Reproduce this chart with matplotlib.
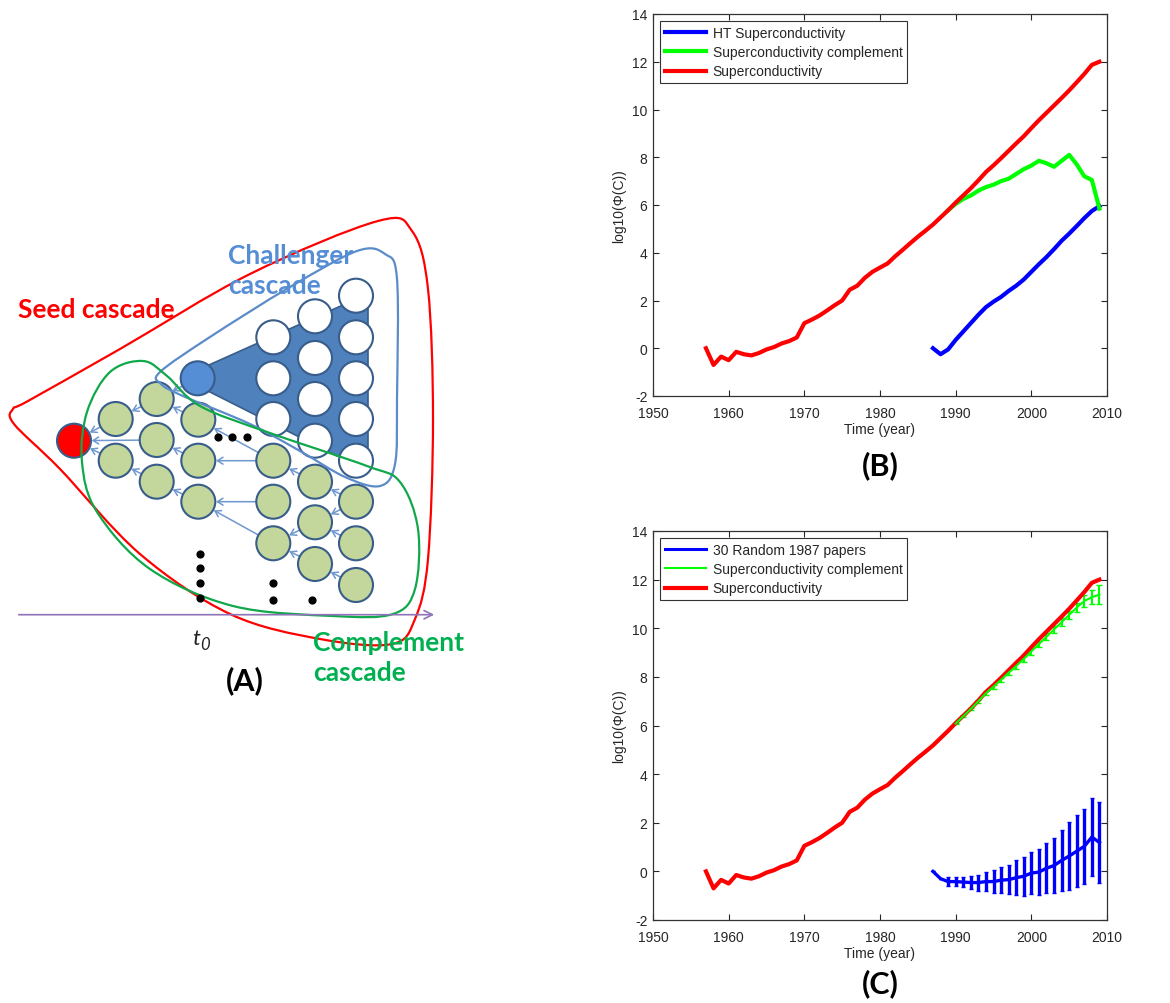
import numpy as np
import matplotlib
matplotlib.use("Agg")
import matplotlib.pyplot as plt
from matplotlib.path import Path
from matplotlib.patches import PathPatch, Circle, Polygon, FancyArrowPatch
from matplotlib.lines import Line2D

plt.rcParams['font.family'] = ['Liberation Sans', 'DejaVu Sans']
plt.rcParams['axes.unicode_minus'] = False

# ---- data ----
years_all = list(range(1957, 2010))
superconductivity = [0.0, -0.7, -0.35, -0.5, -0.15, -0.25, -0.3, -0.2, -0.05, 0.05,
                     0.2, 0.3, 0.45, 1.05, 1.2, 1.37, 1.58, 1.8, 2.0, 2.45,
                     2.62, 2.95, 3.2, 3.38, 3.55, 3.85, 4.12, 4.4, 4.67, 4.92,
                     5.18, 5.48, 5.78, 6.1, 6.4, 6.7, 7.03, 7.38, 7.66, 7.96,
                     8.27, 8.58, 8.88, 9.22, 9.55, 9.86, 10.17, 10.48, 10.8, 11.14,
                     11.49, 11.87, 12.0]

years_b_comp = list(range(1989, 2010))
b_complement = [5.78, 6.05, 6.25, 6.4, 6.6, 6.75, 6.85, 7.0, 7.1, 7.3, 7.5,
                7.65, 7.85, 7.75, 7.6, 7.85, 8.1, 7.7, 7.2, 7.05, 5.85]

years_ht = list(range(1987, 2010))
ht_super = [0.0, -0.25, -0.05, 0.35, 0.7, 1.05, 1.4, 1.72, 1.95, 2.15, 2.4, 2.62,
            2.88, 3.2, 3.52, 3.82, 4.15, 4.5, 4.8, 5.12, 5.45, 5.75, 5.95]

years_c = list(range(1987, 2010))
rand_mean = [0.0, -0.3, -0.42, -0.42, -0.44, -0.46, -0.46, -0.42, -0.42, -0.36, -0.34,
             -0.26, -0.2, -0.07, -0.03, 0.13, 0.24, 0.45, 0.63, 0.83, 1.03, 1.41, 1.19]
rand_err = [0.0, 0.0, 0.18, 0.19, 0.21, 0.27, 0.33, 0.39, 0.48, 0.54, 0.6,
            0.72, 0.8, 0.86, 0.95, 1.04, 1.14, 1.25, 1.4, 1.49, 1.55, 1.62, 1.67]
years_c_comp = list(range(1990, 2010))
c_complement = [6.08, 6.38, 6.68, 7.0, 7.33, 7.6, 7.88, 8.17, 8.45, 8.74, 9.05,
                9.35, 9.65, 9.95, 10.25, 10.55, 10.85, 11.12, 11.28, 11.38]
c_comp_err = [0.03, 0.04, 0.05, 0.06, 0.07, 0.08, 0.09, 0.1, 0.11, 0.12,
              0.13, 0.14, 0.15, 0.16, 0.17, 0.18, 0.2, 0.25, 0.3, 0.38]

W, H = 1170, 1004
fig = plt.figure(figsize=(W / 100, H / 100), dpi=100)


def ax_rect(x0, y0, x1, y1):
    return [x0 / W, 1 - y1 / H, (x1 - x0) / W, (y1 - y0) / H]


def style_axes(ax):
    ax.set_xlim(1950, 2010)
    ax.set_ylim(-2, 14)
    ax.set_xticks(range(1950, 2011, 10))
    ax.set_yticks(range(-2, 15, 2))
    ax.tick_params(direction='in', top=True, right=True, labelsize=10,
                   colors='#262626', length=4, width=0.8)
    ax.tick_params(axis='x', pad=7)
    ax.tick_params(axis='y', pad=4)
    for s in ax.spines.values():
        s.set_color('#333333')
        s.set_linewidth(0.9)
    ax.set_xlabel("Time (year)", fontsize=10, color='#262626', labelpad=2)
    ax.set_ylabel("log10(\u03a6(C))", fontsize=10, color='#262626', labelpad=4)


def legend(ax, handles, labels):
    lg = ax.legend(handles, labels, loc='upper left', fontsize=10, fancybox=False,
                   edgecolor='#333333', framealpha=1, handlelength=3.0,
                   handletextpad=0.45, borderaxespad=0.5, borderpad=0.35,
                   labelspacing=0.38)
    lg.get_frame().set_linewidth(0.8)
    for t in lg.get_texts():
        t.set_color('#262626')


# ---- panel B ----
axB = fig.add_axes(ax_rect(653, 15, 1107, 397))
axB.plot(years_ht, ht_super, color='#0000ff', lw=3)
axB.plot(years_b_comp, b_complement, color='#00ff00', lw=3)
axB.plot(years_all, superconductivity, color='#ff0000', lw=3)
style_axes(axB)
legend(axB, [Line2D([], [], color='#0000ff', lw=3), Line2D([], [], color='#00ff00', lw=3),
             Line2D([], [], color='#ff0000', lw=3)],
       ["HT Superconductivity", "Superconductivity complement", "Superconductivity"])

# ---- panel C ----
axC = fig.add_axes(ax_rect(653, 532, 1107, 921))
axC.errorbar(years_c_comp, c_complement, yerr=c_comp_err, color='#00ff00', lw=1.5,
             elinewidth=1.5, capsize=2.5)
axC.errorbar(years_c, rand_mean, yerr=rand_err, color='#0000ff', lw=2.4,
             elinewidth=2.4, capsize=1.2)
axC.plot(years_all, superconductivity, color='#ff0000', lw=3)
style_axes(axC)
legend(axC, [Line2D([], [], color='#0000ff', lw=2.2), Line2D([], [], color='#00ff00', lw=1.5),
             Line2D([], [], color='#ff0000', lw=3)],
       ["30 Random 1987 papers", "Superconductivity complement", "Superconductivity"])

# ---- panel A (diagram in pixel coordinates) ----
axA = fig.add_axes([0, 0, 1, 1], zorder=-1)
axA.set_xlim(0, W)
axA.set_ylim(H, 0)
axA.axis('off')


def smooth_closed(pts):
    P = np.array(pts, float)
    n = len(P)
    verts = [P[0]]
    codes = [Path.MOVETO]
    for i in range(n):
        p0, p1, p2, p3 = P[i - 1], P[i], P[(i + 1) % n], P[(i + 2) % n]
        verts += [p1 + (p2 - p0) / 6, p2 - (p3 - p1) / 6, p2]
        codes += [Path.CURVE4] * 3
    return Path(verts, codes)


seed_outline = [(13, 410), (28, 402), (120, 350), (250, 275), (378, 222), (412, 232),
                (428, 290), (433, 420), (428, 560), (415, 620), (392, 645), (320, 640),
                (230, 615), (140, 555), (60, 470), (14, 425)]
chal_outline = [(160, 373), (210, 338), (290, 288), (357, 252), (385, 255), (397, 280),
                (397, 400), (395, 465), (380, 487), (345, 478), (300, 452), (250, 425),
                (183, 397), (161, 385)]
comp_outline = [(143, 362), (110, 373), (87, 413), (82, 463), (97, 513), (150, 570),
                (233, 607), (333, 617), (393, 615), (415, 590), (418, 530), (400, 483),
                (367, 467), (267, 433), (200, 407), (167, 377)]

# dark triangle
axA.add_patch(Polygon([(200, 370), (343, 306), (368, 308), (368, 453), (337, 457), (200, 388)],
                      closed=True, fc='#4f81bd', ec='#385d8a', lw=1.2, zorder=2))

node_edge = '#385d8a'
R = 17
red_node = (74, 441.7)
blue_node = (197.7, 379.3)
green_nodes = [(115.7, 420), (115.7, 461.7),
               (156.7, 400), (156.7, 441), (156.7, 482.7),
               (198.3, 420.7), (198.3, 461.7), (198.3, 502.7),
               (273.3, 461.7), (273.3, 502.7), (273.3, 544.3),
               (315, 482.7), (315, 523.3), (315, 565),
               (356, 502.7), (356, 544.3), (356, 586)]
white_nodes = [(273.3, 338.3), (273.3, 379.3), (273.3, 420),
               (315, 317.3), (315, 359), (315, 400), (315, 441.7),
               (356, 296.7), (356, 338.3), (356, 379.3), (356, 420), (356, 461.7)]

G = green_nodes
arrows = [(G[0], red_node), (G[1], red_node), (G[3], red_node),
          (G[2], G[0]), (G[4], G[1]),
          (G[5], G[2]), (blue_node, G[2]), (G[6], G[3]), (G[7], G[4]),
          (G[8], G[6]), (G[9], G[7]), (G[10], G[7]), (G[8], G[5]),
          (G[11], G[8]), (G[12], G[10]), (G[13], G[10]),
          (G[14], G[11]), (G[14], G[12]), (G[15], G[12]), (G[16], G[13])]
shrink = R * 72 / 100  # pixels -> points
for a, b in arrows:
    axA.add_patch(FancyArrowPatch(a, b, arrowstyle='->,head_length=4,head_width=2.5',
                                  color='#6f97d0', lw=1.1, shrinkA=shrink, shrinkB=shrink + 0.5,
                                  zorder=3))

for c in green_nodes:
    axA.add_patch(Circle(c, R, fc='#c3d69b', ec=node_edge, lw=1.5, zorder=4))
for c in white_nodes:
    axA.add_patch(Circle(c, R, fc='white', ec=node_edge, lw=1.5, zorder=4))
axA.add_patch(Circle(blue_node, R, fc='#558ed5', ec=node_edge, lw=1.5, zorder=4))
axA.add_patch(Circle(red_node, R, fc='#ff0000', ec=node_edge, lw=1.5, zorder=4))

for pts, col in [(seed_outline, '#ff0000'), (chal_outline, '#5b8bc9'), (comp_outline, '#10a84a')]:
    axA.add_patch(PathPatch(smooth_closed(pts), fc='none', ec=col, lw=1.6, zorder=5))

# dots
dots_x = [218, 232, 247, 200, 200, 200, 200, 273, 273, 312]
dots_y = [438, 438, 438, 555, 569, 584, 599, 584, 601, 601]
axA.scatter(dots_x, dots_y, s=24, marker='o', color='black', zorder=6)

# time axis
axA.annotate('', xy=(437, 615.7), xytext=(16, 615.7),
             arrowprops=dict(arrowstyle='->,head_length=0.6,head_width=0.3',
                             color='#8f72b8', lw=1.2), zorder=6)
tfont = dict(family=['Lato', 'DejaVu Sans'], style='italic', color='#222222')
axA.text(200, 645, "t", fontsize=16, ha='right', va='baseline', **tfont)
axA.text(200, 650, "0", fontsize=12, ha='left', va='baseline', **tfont)

lab = dict(family=['Lato', 'DejaVu Sans'], fontweight='bold', fontsize=19)
axA.text(18, 310, "Seed cascade", color='#ff0000', ha='left', va='center', zorder=7, **lab)
axA.text(228, 271, "Challenger\ncascade", color='#558ed5', ha='left', va='center',
         linespacing=1.3, zorder=7, **lab)
axA.text(313, 658, "Complement\ncascade", color='#00b050', ha='left', va='center',
         linespacing=1.3, zorder=7, **lab)

pl = dict(family=['Lato', 'DejaVu Sans'], fontweight='bold', fontsize=22, ha='center',
          va='center', color='black')
axA.text(245, 681, "(A)", **pl)
axA.text(880, 466, "(B)", **pl)
axA.text(880, 984, "(C)", **pl)

fig.savefig("out.png", dpi=100)
